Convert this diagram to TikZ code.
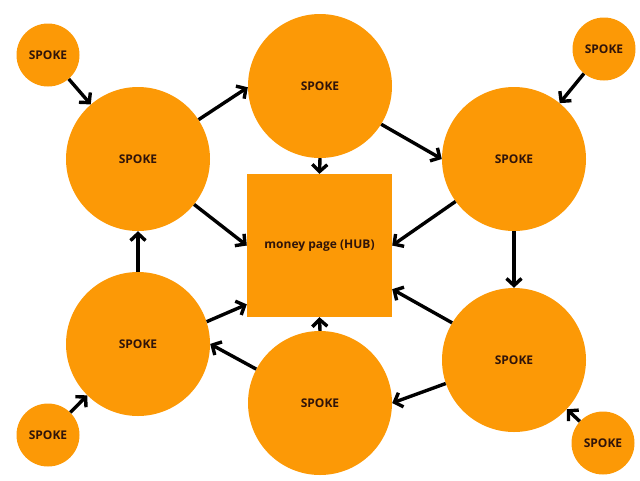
\documentclass[tikz,border=0pt]{standalone}
\usepackage{fontspec}
\setmainfont{Open Sans}
\usetikzlibrary{arrows.meta}
\definecolor{spokeorange}{RGB}{252,153,6}
\definecolor{spoketext}{RGB}{48,20,10}

\begin{document}
\begin{tikzpicture}[x=1pt,y=-1pt,>={Straight Barb[length=7pt,width=15pt]},
  spoke/.style={circle,fill=spokeorange,inner sep=0pt,text=spoketext,font=\fontsize{12}{14}\selectfont\bfseries},
  bigspoke/.style={spoke,minimum size=144pt},
  smallspoke/.style={spoke,minimum size=63pt},
  hub/.style={rectangle,fill=spokeorange,inner sep=0pt,minimum width=145pt,minimum height=143pt,text=spoketext,font=\fontsize{12}{14}\selectfont\bfseries},
  link/.style={->,line width=3.4pt,black}]
\useasboundingbox (0,0) rectangle (640,480);
\node[hub] (hub) at (319.5,245.5) {money page (HUB)};
\foreach \n/\x/\y in {tl/138/159,tm/320/86,tr/514/159,bl/138/344,bm/320/403,br/514/360} {%
  \node[bigspoke] (\n) at (\x,\y) {SPOKE};
}
\foreach \n/\x/\y in {tls/48/55,trs/604/49,bls/48/435,brs/603/443} {%
  \node[smallspoke] (\n) at (\x,\y) {SPOKE};
}
\foreach \a/\b in {tls/tl,trs/tr,bls/bl,brs/br,tl.33/tm.181,tm.-32/tr.180,tm.south/hub.north,
  tl.-39/hub.west,tr.216/hub.east,tr.south/br.north,bl.north/tl.south,bl.18/hub.219,
  br.149/hub.-31,bm.north/hub.south,bm.152/bl.east,br.199/bm.east} {%
  \draw[link] (\a) -- (\b);
}
\end{tikzpicture}
\end{document}
